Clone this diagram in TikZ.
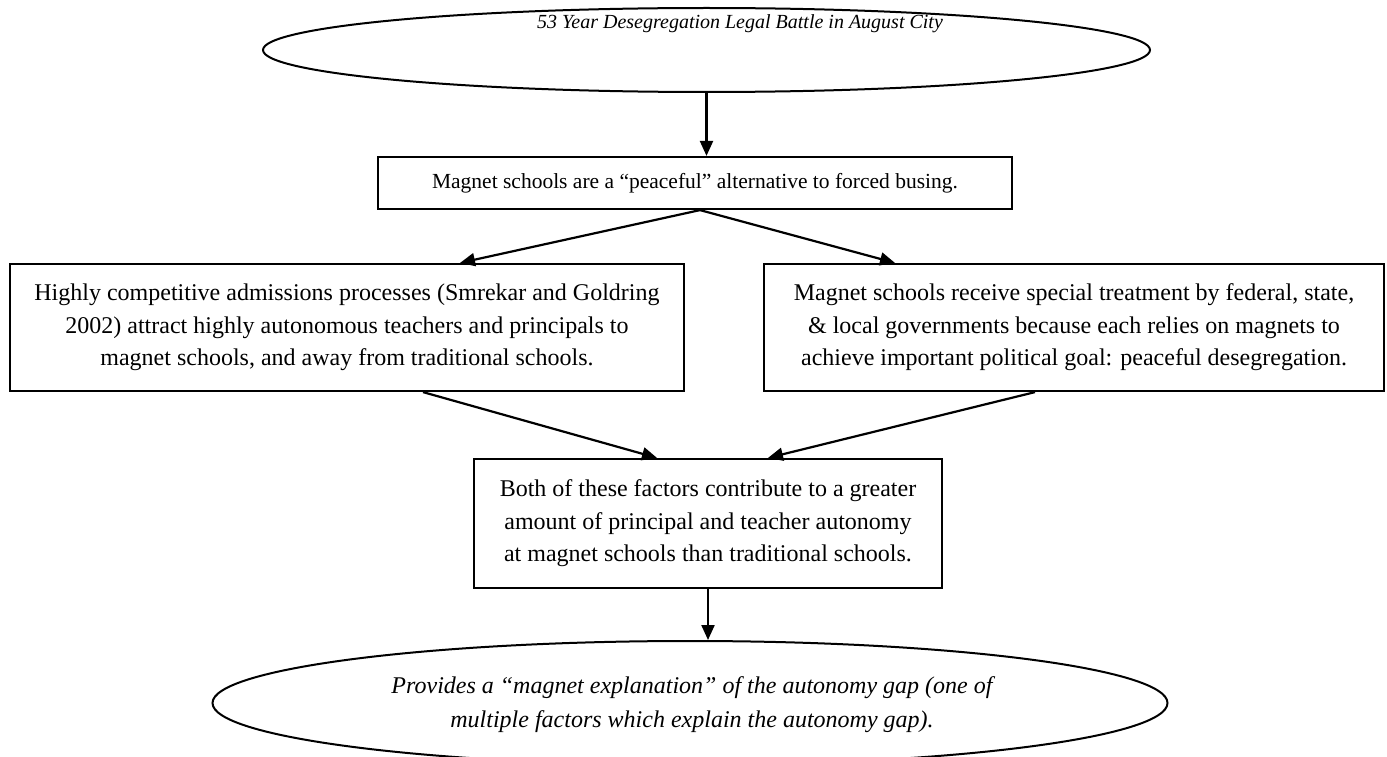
\documentclass[tikz,border=0pt]{standalone}
\usepackage{fontspec}
\setmainfont{Liberation Serif}
\usepackage{tikz}
\usetikzlibrary{shapes,arrows.meta}
\tikzstyle{factbox}=[draw, line width=2.2pt, align=center, inner sep=0pt, font=\fontsize{24}{32.5}\selectfont]
\tikzstyle{ovalbox}=[draw, ellipse, line width=2pt, inner sep=0pt]
\tikzstyle{ovaltext}=[align=center, font=\fontsize{24}{34}\selectfont\itshape]
\tikzstyle{flow}=[line width=2.2pt, -{Triangle[length=15pt,width=13pt]}]

\begin{document}
\begin{tikzpicture}[x=1pt,y=-1pt]
	\useasboundingbox (0,0) rectangle (1387,757);
	% ovals
	\node[ovalbox, minimum width=887, minimum height=84] (battle) at (706.5,50) {};
	\node[ovaltext, font=\fontsize{20}{28}\selectfont\itshape] (battletext) at (740,24) {53 Year Desegregation Legal Battle in August City};
	\node[ovalbox, minimum width=955, minimum height=124] (magnetgap) at (690,703) {};
	\node[ovaltext] (magnetgaptext) at (692,705) {Provides a “magnet explanation” of the autonomy gap (one of\\multiple factors which explain the autonomy gap).};
	% boxes
	\node[factbox, minimum width=634, minimum height=52, font=\fontsize{21.5}{30}\selectfont] (peaceful) at (695,183) {Magnet schools are a “peaceful” alternative to forced busing.};
	\node[factbox, minimum width=674, minimum height=127] (admissions) at (347,327.5) {Highly competitive admissions processes (Smrekar and Goldring\\2002) attract highly autonomous teachers and principals to\\magnet schools, and away from traditional schools.};
	\node[factbox, minimum width=620, minimum height=127] (treatment) at (1074,327.5) {Magnet schools receive special treatment by federal, state,\\\& local governments because each relies on magnets to\\achieve important political goal: peaceful desegregation.};
	\node[factbox, minimum width=468, minimum height=129] (autonomy) at (708,523.5) {Both of these factors contribute to a greater\\amount of principal and teacher autonomy\\at magnet schools than traditional schools.};
	% arrows
	\draw[flow] (battle.south) -- (battle.south |- peaceful.north);
	\draw[flow] ([xshift=5pt]peaceful.south) -- ([xshift=113pt]admissions.north);
	\draw[flow] ([xshift=5pt]peaceful.south) -- ([xshift=-179pt]treatment.north);
	\draw[flow] ([xshift=76pt]admissions.south) -- ([xshift=-51pt]autonomy.north);
	\draw[flow] ([xshift=-39pt]treatment.south) -- ([xshift=60pt]autonomy.north);
	\draw[flow] (autonomy.south) -- (autonomy.south |- magnetgap.north);
\end{tikzpicture}
\end{document}
